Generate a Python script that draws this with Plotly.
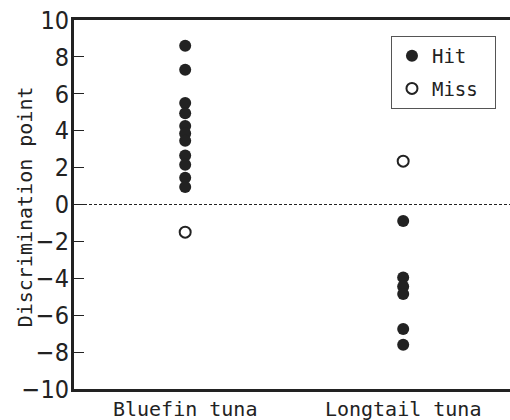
import plotly.graph_objects as go

categories = ["Bluefin tuna", "Longtail tuna"]
bluefin_hit = [8.6, 7.3, 5.5, 4.95, 4.25, 3.85, 3.45, 2.65, 2.15, 1.45, 0.95]
bluefin_miss = [-1.5]
longtail_hit = [-0.9, -3.95, -4.45, -4.85, -6.75, -7.6]
longtail_miss = [2.35]
y_ticks = [-10, -8, -6, -4, -2, 0, 2, 4, 6, 8, 10]
y_title = "Discrimination point"

ink = "#222222"
mono = "DejaVu Sans Mono"
narrow = "DejaVu Sans Condensed"

hit_x = [0] * len(bluefin_hit) + [1] * len(longtail_hit)
hit_y = bluefin_hit + longtail_hit
miss_x = [0] * len(bluefin_miss) + [1] * len(longtail_miss)
miss_y = bluefin_miss + longtail_miss

fig = go.Figure()
fig.add_trace(go.Scatter(
    x=hit_x, y=hit_y, mode="markers", name="Hit", legendgroup="a",
    marker=dict(size=12, color=ink, line=dict(width=0)),
))
fig.add_trace(go.Scatter(
    x=miss_x, y=miss_y, mode="markers", name="Miss\u00a0", legendgroup="b",
    marker=dict(size=11, color="white", line=dict(width=2, color=ink)),
))

fig.add_shape(type="line", xref="paper", yref="y", x0=0, x1=1, y0=0, y1=0,
              line=dict(color=ink, width=1, dash="3px,2px"), layer="below")

fig.add_annotation(
    text=y_title, xref="paper", yref="paper", x=-0.1124, y=0.495,
    xanchor="center", yanchor="middle", textangle=-90, showarrow=False,
    font=dict(family=mono, size=20, color=ink),
)

fig.update_layout(
    width=510, height=420,
    margin=dict(l=74, r=0, t=20, b=31),
    plot_bgcolor="white", paper_bgcolor="white",
    showlegend=True,
    legend=dict(
        x=0.727, y=0.957, xanchor="left", yanchor="top",
        bordercolor="#555555", borderwidth=1, bgcolor="white",
        font=dict(family=mono, size=19, color=ink),
        traceorder="grouped", tracegroupgap=5,
        itemwidth=30,
    ),
    xaxis=dict(
        range=[-0.51, 1.49],
        tickmode="array", tickvals=[0, 1], ticktext=categories,
        showgrid=False, zeroline=False,
        showline=True, linecolor=ink, linewidth=3, mirror=True,
        ticks="", tickfont=dict(family=mono, size=20, color=ink),
    ),
    yaxis=dict(
        range=[-10, 10],
        tickmode="array", tickvals=y_ticks,
        ticktext=[("\u2212" + str(-v)) if v < 0 else str(v) for v in y_ticks],
        showgrid=False, zeroline=False,
        showline=True, linecolor=ink, linewidth=3,
        ticks="inside", ticklen=10, tickwidth=1, tickcolor=ink,
        ticklabelstandoff=-3,
        tickfont=dict(family=narrow, size=25, color=ink),
    ),
)

fig.write_html("out.html", config={"displayModeBar": False},
               post_script="document.body.style.margin='0px';")
